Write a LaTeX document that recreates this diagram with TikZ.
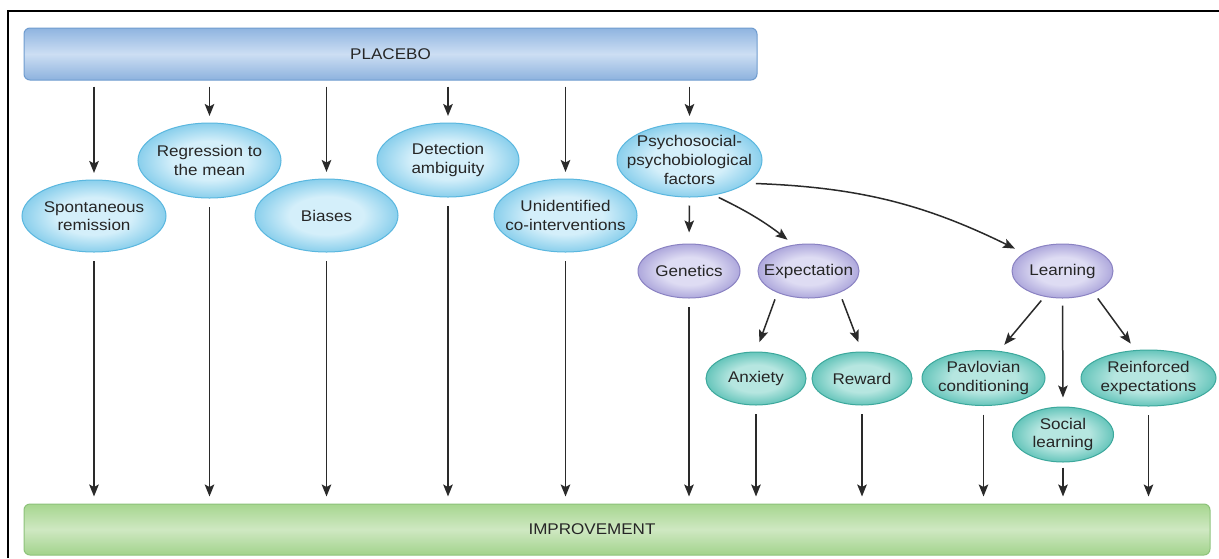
\documentclass[tikz,border=0pt]{standalone}
\usepackage{fontspec}
\setmainfont{Liberation Sans}[FakeStretch=1.1]
\usetikzlibrary{shapes.geometric,arrows.meta}

\definecolor{bIn}{HTML}{D4EFFA}
\definecolor{bOut}{HTML}{8ACFEC}
\definecolor{bLine}{HTML}{5AB7DF}
\definecolor{pIn}{HTML}{DEDCF3}
\definecolor{pOut}{HTML}{AEA8DC}
\definecolor{pLine}{HTML}{8A82C2}
\definecolor{tIn}{HTML}{B6E6E0}
\definecolor{tOut}{HTML}{66C5BB}
\definecolor{tLine}{HTML}{3CA89C}
\definecolor{txt}{HTML}{262626}
\definecolor{arrc}{HTML}{2A2A2A}
\definecolor{plTop}{HTML}{8FB4E0}
\definecolor{plMid}{HTML}{CCDEF3}
\definecolor{plBot}{HTML}{8DB2DE}
\definecolor{plLine}{HTML}{6F9CCF}
\definecolor{imTop}{HTML}{A6D68F}
\definecolor{imMid}{HTML}{CFE8C2}
\definecolor{imBot}{HTML}{A2D38C}
\definecolor{imLine}{HTML}{8DC27A}

\pgfdeclareradialshading{bshade}{\pgfpoint{0bp}{0bp}}{color(0bp)=(bIn); color(13bp)=(bIn); color(25bp)=(bOut); color(50bp)=(bOut)}
\pgfdeclareradialshading{pshade}{\pgfpoint{0bp}{0bp}}{color(0bp)=(pIn); color(13bp)=(pIn); color(25bp)=(pOut); color(50bp)=(pOut)}
\pgfdeclareradialshading{tshade}{\pgfpoint{0bp}{0bp}}{color(0bp)=(tIn); color(13bp)=(tIn); color(25bp)=(tOut); color(50bp)=(tOut)}

\begin{document}
\begin{tikzpicture}[x=1pt, y=-1pt,
  ellbase/.style={ellipse, inner sep=0pt, line width=1pt, shade},
  bell/.style={ellbase, shading=bshade, draw=bLine},
  pell/.style={ellbase, shading=pshade, draw=pLine},
  tell/.style={ellbase, shading=tshade, draw=tLine},
  lbl/.style={align=center, text=txt, inner sep=0pt, font=\fontsize{15.5}{18.5}\selectfont},
  bar/.style={rectangle, rounded corners=6pt, line width=1pt, inner sep=0pt},
  arr/.style={draw=arrc, line width=1.5pt, -{Stealth[length=12pt,width=9.5pt,inset=2.5pt]}},
]
\useasboundingbox (0,0) rectangle (1219,558);
\fill[white] (0,0) rectangle (1219,558);
\draw[line width=1.6pt, black] (8,558) -- (8,11) -- (1219,11);

% bars
\node[bar, draw=plLine, top color=plTop, bottom color=plBot, middle color=plMid,
  minimum width=733pt, minimum height=52pt, label={[lbl]center:PLACEBO}] (placebo) at (390.5,54) {};
\node[bar, draw=imLine, top color=imTop, bottom color=imBot, middle color=imMid,
  minimum width=1186pt, minimum height=51pt, label={[lbl, xshift=-25pt]center:IMPROVEMENT}] (imp) at (617,529.5) {};

% blue ellipses
\node[bell, minimum width=144pt, minimum height=72pt, label={[lbl]center:{Spontaneous\\remission}}] (sr) at (94,216) {};
\node[bell, minimum width=143pt, minimum height=75pt, label={[lbl]center:{Regression to\\the mean}}] (rm) at (209.5,160.5) {};
\node[bell, minimum width=143pt, minimum height=73pt, label={[lbl]center:Biases}] (bi) at (326.5,215.5) {};
\node[bell, minimum width=142pt, minimum height=74pt, label={[lbl]center:{Detection\\ambiguity}}] (da) at (448,160) {};
\node[bell, minimum width=143pt, minimum height=73pt, label={[lbl]center:{Unidentified\\co-interventions}}] (ui) at (565.5,215.5) {};
\node[bell, minimum width=145pt, minimum height=74pt, label={[lbl, font=\fontsize{15.5}{19}\selectfont]center:{Psychosocial-\\psychobiological\\factors}}] (psy) at (689.5,160) {};

% purple ellipses
\node[pell, minimum width=102pt, minimum height=54pt, label={[lbl]center:Genetics}] (gen) at (689,271) {};
\node[pell, minimum width=101pt, minimum height=54pt, label={[lbl]center:Expectation}] (exp) at (808.5,271) {};
\node[pell, minimum width=101pt, minimum height=54pt, label={[lbl]center:Learning}] (lea) at (1062.5,271) {};

% teal ellipses
\node[tell, minimum width=100pt, minimum height=53pt, label={[lbl]center:Anxiety}] (anx) at (756,378.5) {};
\node[tell, minimum width=100pt, minimum height=53pt, label={[lbl]center:Reward}] (rew) at (862,378.5) {};
\node[tell, minimum width=123pt, minimum height=55pt, label={[lbl]center:{Pavlovian\\conditioning}}] (pav) at (983.5,378) {};
\node[tell, minimum width=101pt, minimum height=55pt, label={[lbl]center:{Social\\learning}}] (soc) at (1063,434.5) {};
\node[tell, minimum width=135pt, minimum height=56pt, label={[lbl]center:{Reinforced\\expectations}}] (rei) at (1148.5,378) {};

% arrows from placebo
\foreach \n in {sr,rm,bi,da,ui,psy}
  \draw[arr, shorten <=6pt, shorten >=6.5pt] (placebo.south -| \n.north) -- (\n.north);

% arrows to improvement
\foreach \n in {sr,rm,bi,da,ui,gen,anx,rew,pav,rei}
  \draw[arr, shorten <=8.5pt, shorten >=7pt] (\n.south) -- (\n.south |- imp.north);
\draw[arr, shorten <=5pt, shorten >=7pt] (soc.south) -- (soc.south |- imp.north);

% psychosocial branches
\draw[arr, shorten <=8pt, shorten >=11pt] (psy.south) -- (gen.north);
\draw[arr, shorten <=5pt, shorten >=8pt] (psy.-55) to[bend left=6] (exp.119);
\draw[arr, shorten <=9pt, shorten >=10pt] (psy.-22) to[bend left=12] (lea.155);

% expectation branches
\draw[arr, shorten <=7pt, shorten >=10pt] (exp.215) -- (anx.90);
\draw[arr, shorten <=7pt, shorten >=10pt] (exp.-35) -- (rew.90);

% learning branches
\draw[arr, shorten <=5pt, shorten >=8pt] (lea.235) -- (pav.60);
\draw[arr, shorten <=7pt, shorten >=9pt] (lea.south) -- (soc.north);
\draw[arr, shorten <=7pt, shorten >=8pt] (lea.-35) -- (rei.115);
\end{tikzpicture}
\end{document}
